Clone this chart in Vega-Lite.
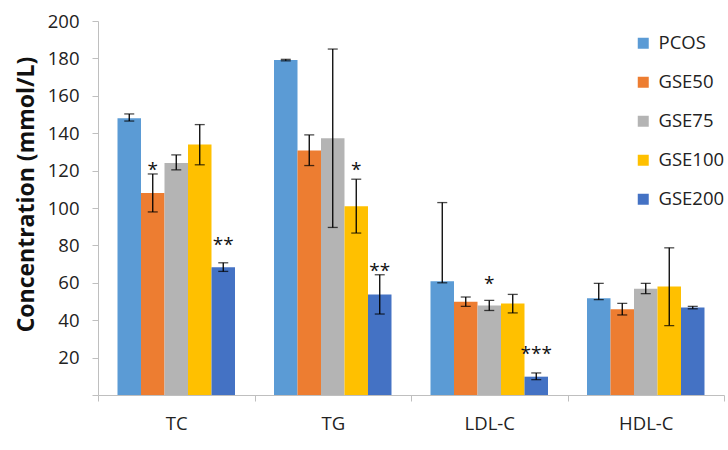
{
  "$schema": "https://vega.github.io/schema/vega-lite/v6.json",
  "width": 626,
  "height": 374,
  "autosize": "none",
  "padding": {"left": 98, "top": 21, "right": 4, "bottom": 55},
  "background": "white",
  "config": {
    "view": {"stroke": null}, "font": "Open Sans",
    "axisY": {"labelFontSize": 18.5, "labelOverlap": false, "labelSeparation": 0, "labelFont": "Open Sans", "labelColor": "#222222", "labelPadding": 13, "tickSize": 6, "domainColor": "#BFBFBF", "tickColor": "#BFBFBF", "grid": false},
    "axisX": {"labelFontSize": 18.5, "labelFont": "Open Sans", "labelColor": "#222222", "labelPadding": 13, "tickSize": 6, "domainColor": "#BFBFBF", "tickColor": "#BFBFBF"}
  },
  "data": {"values": [
    {"cat": "TC", "group": "PCOS", "value": 148, "low": 146.5, "high": 150.3, "sig": "", "sigAt": null},
    {"cat": "TC", "group": "GSE50", "value": 108, "low": 97.9, "high": 118.2, "sig": "*", "sigAt": 122},
    {"cat": "TC", "group": "GSE75", "value": 124, "low": 120.4, "high": 128.4, "sig": "", "sigAt": null},
    {"cat": "TC", "group": "GSE100", "value": 134, "low": 123.1, "high": 144.6, "sig": "", "sigAt": null},
    {"cat": "TC", "group": "GSE200", "value": 68.3, "low": 66.1, "high": 70.7, "sig": "**", "sigAt": 82},
    {"cat": "TG", "group": "PCOS", "value": 179.1, "low": 178.7, "high": 179.5, "sig": "", "sigAt": null},
    {"cat": "TG", "group": "GSE50", "value": 130.8, "low": 122.7, "high": 139.1, "sig": "", "sigAt": null},
    {"cat": "TG", "group": "GSE75", "value": 137.3, "low": 89.6, "high": 185, "sig": "", "sigAt": null},
    {"cat": "TG", "group": "GSE100", "value": 100.9, "low": 86.6, "high": 115.4, "sig": "*", "sigAt": 122},
    {"cat": "TG", "group": "GSE200", "value": 53.7, "low": 43.3, "high": 64.3, "sig": "**", "sigAt": 68},
    {"cat": "LDL-C", "group": "PCOS", "value": 60.8, "low": 60, "high": 102.9, "sig": "", "sigAt": null},
    {"cat": "LDL-C", "group": "GSE50", "value": 49.8, "low": 47.4, "high": 52.4, "sig": "", "sigAt": null},
    {"cat": "LDL-C", "group": "GSE75", "value": 47.9, "low": 45.2, "high": 50.6, "sig": "*", "sigAt": 61},
    {"cat": "LDL-C", "group": "GSE100", "value": 48.9, "low": 43.9, "high": 53.8, "sig": "", "sigAt": null},
    {"cat": "LDL-C", "group": "GSE200", "value": 9.8, "low": 8.2, "high": 11.8, "sig": "***", "sigAt": 23.7},
    {"cat": "HDL-C", "group": "PCOS", "value": 51.8, "low": 51, "high": 59.7, "sig": "", "sigAt": null},
    {"cat": "HDL-C", "group": "GSE50", "value": 45.9, "low": 42.8, "high": 49, "sig": "", "sigAt": null},
    {"cat": "HDL-C", "group": "GSE75", "value": 56.8, "low": 54.2, "high": 59.7, "sig": "", "sigAt": null},
    {"cat": "HDL-C", "group": "GSE100", "value": 58, "low": 37.1, "high": 78.7, "sig": "", "sigAt": null},
    {"cat": "HDL-C", "group": "GSE200", "value": 46.8, "low": 46.1, "high": 47.4, "sig": "", "sigAt": null}
  ]},
  "encoding": {
    "x": {
      "field": "cat", "type": "nominal", "sort": ["TC", "TG", "LDL-C", "HDL-C"],
      "scale": {"paddingInner": 0, "paddingOuter": 0},
      "axis": {"title": null, "labelAngle": 0, "tickBand": "extent"}
    },
    "xOffset": {
      "field": "group", "type": "nominal",
      "sort": ["PCOS", "GSE50", "GSE75", "GSE100", "GSE200"],
      "scale": {"paddingInner": 0, "paddingOuter": 0.83}
    }
  },
  "layer": [
    {
      "mark": {"type": "bar"},
      "encoding": {
        "y": {
          "field": "value", "type": "quantitative", "title": "Concentration (mmol/L)",
          "scale": {"domain": [0, 200], "nice": false},
          "axis": {
            "title": "Concentration (mmol/L)", "values": [0, 20, 40, 60, 80, 100, 120, 140, 160, 180, 200],
            "labelExpr": "datum.value == 0 ? '' : datum.label", "labelOverlap": false, "labelSeparation": 0,
            "titleFont": "Open Sans", "titleFontSize": 23, "titleFontWeight": "bold", "titleColor": "#111111",
            "titleX": -72, "titleY": 173, "titleAngle": -90, "titleAlign": "center", "titleBaseline": "middle"
          }
        },
        "color": {
          "field": "group", "type": "nominal",
          "sort": ["PCOS", "GSE50", "GSE75", "GSE100", "GSE200"],
          "scale": {"domain": ["PCOS", "GSE50", "GSE75", "GSE100", "GSE200"], "range": ["#5B9BD5", "#ED7D31", "#B4B4B4", "#FFC000", "#4472C4"]},
          "legend": {
            "title": null, "orient": "none", "legendX": 536, "legendY": 13,
            "symbolType": "square", "symbolSize": 121, "symbolStrokeWidth": 0, "symbolOpacity": 1,
            "labelFont": "Open Sans", "labelFontSize": 18.5, "labelColor": "#222222",
            "rowPadding": 20, "labelOffset": 6
          }
        }
      }
    },
    {
      "mark": {"type": "rule", "color": "black", "strokeWidth": 1.3},
      "encoding": {
        "y": {"field": "low", "type": "quantitative", "title": "Concentration (mmol/L)",
          "axis": {
            "title": "Concentration (mmol/L)", "values": [0, 20, 40, 60, 80, 100, 120, 140, 160, 180, 200],
            "labelExpr": "datum.value == 0 ? '' : datum.label", "labelOverlap": false, "labelSeparation": 0,
            "titleFont": "Open Sans", "titleFontSize": 23, "titleFontWeight": "bold", "titleColor": "#111111",
            "titleX": -72, "titleY": 173, "titleAngle": -90, "titleAlign": "center", "titleBaseline": "middle"
          }},
        "y2": {"field": "high"}
      }
    },
    {
      "mark": {"type": "tick", "color": "black", "thickness": 1.3, "size": 10},
      "encoding": {"y": {"field": "low", "type": "quantitative", "title": "Concentration (mmol/L)",
          "axis": {
            "title": "Concentration (mmol/L)", "values": [0, 20, 40, 60, 80, 100, 120, 140, 160, 180, 200],
            "labelExpr": "datum.value == 0 ? '' : datum.label", "labelOverlap": false, "labelSeparation": 0,
            "titleFont": "Open Sans", "titleFontSize": 23, "titleFontWeight": "bold", "titleColor": "#111111",
            "titleX": -72, "titleY": 173, "titleAngle": -90, "titleAlign": "center", "titleBaseline": "middle"
          }}}
    },
    {
      "mark": {"type": "tick", "color": "black", "thickness": 1.3, "size": 10},
      "encoding": {"y": {"field": "high", "type": "quantitative", "title": "Concentration (mmol/L)",
          "axis": {
            "title": "Concentration (mmol/L)", "values": [0, 20, 40, 60, 80, 100, 120, 140, 160, 180, 200],
            "labelExpr": "datum.value == 0 ? '' : datum.label", "labelOverlap": false, "labelSeparation": 0,
            "titleFont": "Open Sans", "titleFontSize": 23, "titleFontWeight": "bold", "titleColor": "#111111",
            "titleX": -72, "titleY": 173, "titleAngle": -90, "titleAlign": "center", "titleBaseline": "middle"
          }}}
    },
    {
      "transform": [{"filter": "datum.sig != ''"}],
      "mark": {"type": "text", "font": "Open Sans", "fontSize": 19, "color": "#111111", "baseline": "alphabetic", "dy": 9},
      "encoding": {
        "y": {"field": "sigAt", "type": "quantitative", "title": "Concentration (mmol/L)",
          "axis": {
            "title": "Concentration (mmol/L)", "values": [0, 20, 40, 60, 80, 100, 120, 140, 160, 180, 200],
            "labelExpr": "datum.value == 0 ? '' : datum.label", "labelOverlap": false, "labelSeparation": 0,
            "titleFont": "Open Sans", "titleFontSize": 23, "titleFontWeight": "bold", "titleColor": "#111111",
            "titleX": -72, "titleY": 173, "titleAngle": -90, "titleAlign": "center", "titleBaseline": "middle"
          }},
        "text": {"field": "sig"}
      }
    }
  ]
}
